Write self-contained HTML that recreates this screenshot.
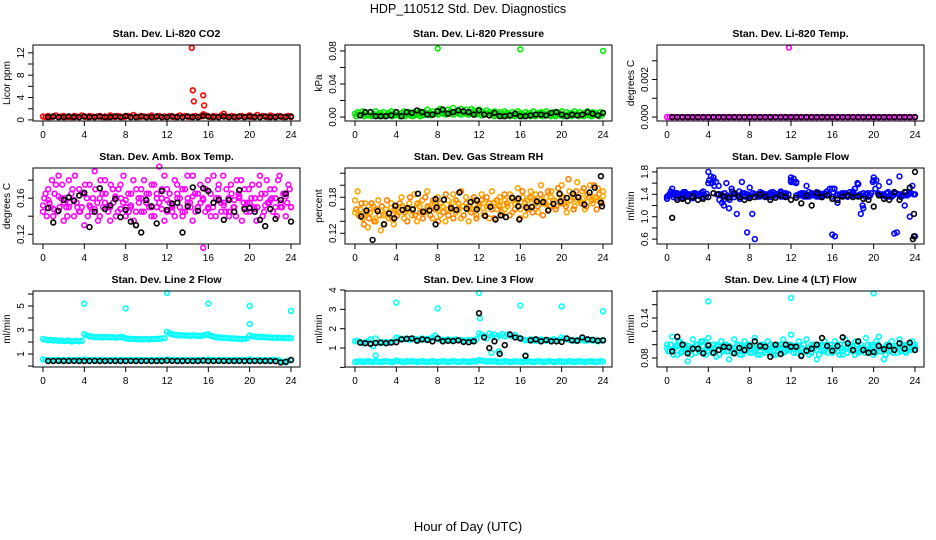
<!DOCTYPE html>
<html><head><meta charset="utf-8"><style>
html,body{margin:0;padding:0;background:#fff;}
svg{display:block;font-family:"Liberation Sans",Arial,sans-serif;}
</style></head><body>
<svg id="chart" width="936" height="540" viewBox="0 0 936 540" xmlns="http://www.w3.org/2000/svg">
<text x="468" y="13" text-anchor="middle" font-size="12.5">HDP_110512  Std. Dev. Diagnostics</text>
<text x="468" y="531" text-anchor="middle" font-size="13">Hour of Day (UTC)</text>
</svg>
<script>
// ---------- data ----------
const xTicks = [0,4,8,12,16,20,24];

const co2Red = [0.6,0.5,0.7,0.5,0.6,0.8,0.5,0.6,0.7,0.5,0.6,0.5,0.7,0.6,0.5,0.8,0.6,0.5,0.7,0.6,0.5,0.6,0.7,0.5,0.6,0.5,0.8,0.6,0.5,0.7,0.6,0.5,0.6,0.7,0.5,0.9,0.6,0.5,0.7,0.6,0.5,0.6,0.8,0.5,0.6,0.7,0.5,0.6,0.5,0.7,0.6,0.5,0.6,0.8,0.5,0.7,0.6,0.5,0.6,0.7,0.5,0.6,1.0,0.8,0.6,0.5,0.7,0.6,0.5,0.8,1.1,0.6,0.5,0.7,0.6,0.5,0.6,0.7,0.5,0.6,0.8,0.5,0.6,0.9,0.5,0.7,0.6,0.5,0.8,0.6,0.5,0.7,0.6,0.5,0.6,0.7,0.5];
const co2OutHours = [14.4,14.5,14.6,15.5,15.6];
const co2OutVals = [12.9,5.3,3.3,4.4,2.6];
const co2Black = [0.5,0.6,0.5,0.5,0.6,0.5,0.5,0.6,0.5,0.5,0.6,0.5,0.5,0.6,0.5,0.7,0.5,0.5,0.6,0.5,0.5,0.6,0.5,0.5,0.6,0.5,0.5,0.6,0.5,0.5,0.7,0.6,0.5,0.5,0.6,0.5,0.5,0.6,0.5,0.6,0.5,0.5,0.6,0.5,0.5,0.6,0.5,0.6];

const presGreenA = [0.004,0.006,0.003,0.007,0.005,0.002,0.006,0.004,0.007,0.003,0.005,0.006,0.002,0.005,0.007,0.004,0.006,0.003,0.005,0.007,0.004,0.006,0.003,0.006,0.005,0.007,0.004,0.006,0.009,0.005,0.007,0.004,0.008,0.010,0.006,0.005,0.009,0.007,0.011,0.006,0.008,0.010,0.007,0.009,0.006,0.010,0.008,0.006,0.009,0.007,0.005,0.008,0.006,0.004,0.007,0.005,0.006,0.004,0.007,0.005,0.003,0.006,0.004,0.007,0.005,0.003,0.006,0.004,0.005,0.007,0.003,0.005,0.006,0.004,0.007,0.005,0.003,0.006,0.004,0.005,0.007,0.003,0.006,0.004,0.005,0.007,0.004,0.006,0.003,0.005,0.007,0.004,0.006,0.005,0.003,0.006,0.005];
const presGreenB = [0.001,0.003,0.002,0.001,0.003,0.002,0.001,0.002,0.003,0.001,0.002,0.001,0.003,0.002,0.001,0.002,0.003,0.001,0.002,0.001,0.003,0.002,0.001,0.002,0.003,0.001,0.002,0.003,0.004,0.002,0.003,0.004,0.003,0.005,0.004,0.003,0.005,0.004,0.003,0.006,0.004,0.003,0.005,0.004,0.003,0.004,0.005,0.003,0.004,0.002,0.003,0.004,0.002,0.003,0.001,0.002,0.003,0.001,0.002,0.003,0.001,0.002,0.001,0.003,0.002,0.001,0.002,0.003,0.001,0.002,0.001,0.003,0.002,0.001,0.002,0.003,0.001,0.002,0.001,0.003,0.002,0.001,0.002,0.003,0.001,0.002,0.003,0.001,0.002,0.001,0.003,0.002,0.001,0.002,0.003,0.001,0.002];
const presOutHours = [8,16,24];
const presOutVals = [0.083,0.082,0.080];
const presBlack = [0.002,0.006,0.006,0.001,0.001,0.001,0.002,0.006,0.001,0.006,0.005,0.008,0.006,0.003,0.003,0.007,0.009,0.004,0.006,0.008,0.007,0.006,0.003,0.008,0.003,0.002,0.005,0.001,0.001,0.002,0.004,0.001,0.001,0.002,0.003,0.003,0.002,0.005,0.006,0.003,0.001,0.003,0.002,0.003,0.006,0.004,0.002,0.005];

const tempMag = [0,0,0,0,0,0,0,0,0,0,0,0,0,0,0,0,0,0,0,0,0,0,0,0,0,0,0,0,0,0,0,0,0,0,0,0,0,0,0,0,0,0,0,0,0,0,0,0,0,0,0,0,0,0,0,0,0,0,0,0,0,0,0,0,0,0,0,0,0,0,0,0,0,0,0,0,0,0,0,0,0,0,0,0,0,0,0,0,0,0,0,0,0,0,0,0,0];
const tempOutHours = [11.8];
const tempOutVals = [0.0037];
const tempBlack = [0,0,0,0,0,0,0,0,0,0,0,0,0,0,0,0,0,0,0,0,0,0,0,0,0,0,0,0,0,0,0,0,0,0,0,0,0,0,0,0,0,0,0,0,0,0,0,0];

const ambA = [0.145,0.165,0.17,0.15,0.14,0.175,0.185,0.16,0.135,0.15,0.18,0.165,0.14,0.155,0.17,0.15,0.13,0.16,0.175,0.145,0.19,0.155,0.14,0.165,0.18,0.15,0.135,0.17,0.16,0.145,0.175,0.155,0.14,0.165,0.15,0.18,0.13,0.16,0.17,0.145,0.155,0.165,0.14,0.175,0.15,0.195,0.16,0.135,0.17,0.155,0.145,0.18,0.165,0.15,0.14,0.17,0.16,0.15,0.185,0.145,0.165,0.155,0.105,0.17,0.15,0.14,0.185,0.16,0.175,0.145,0.155,0.17,0.14,0.165,0.15,0.18,0.16,0.135,0.17,0.155,0.145,0.175,0.16,0.15,0.185,0.14,0.165,0.155,0.17,0.145,0.16,0.18,0.15,0.165,0.14,0.175,0.15];
const ambB = [0.16,0.14,0.155,0.18,0.165,0.145,0.15,0.175,0.16,0.14,0.155,0.17,0.185,0.15,0.145,0.165,0.175,0.14,0.15,0.16,0.17,0.135,0.18,0.15,0.165,0.145,0.175,0.155,0.14,0.17,0.16,0.185,0.15,0.145,0.165,0.135,0.17,0.155,0.145,0.18,0.165,0.15,0.175,0.14,0.16,0.155,0.17,0.185,0.145,0.165,0.15,0.14,0.175,0.16,0.17,0.145,0.185,0.155,0.135,0.165,0.15,0.175,0.16,0.145,0.18,0.165,0.15,0.14,0.17,0.155,0.185,0.145,0.16,0.175,0.15,0.14,0.165,0.18,0.155,0.145,0.17,0.16,0.15,0.135,0.175,0.165,0.145,0.18,0.155,0.16,0.17,0.14,0.185,0.15,0.165,0.155,0.17];
const ambC = [0.152,0.158,0.148,0.162,0.155,0.15,0.158,0.145,0.165,0.152,0.148,0.16,0.155,0.15,0.162,0.148,0.158,0.152,0.145,0.16,0.155,0.15,0.165,0.148,0.158,0.152,0.16,0.145,0.155,0.162,0.15,0.158,0.148,0.155,0.16,0.152,0.145,0.158,0.162,0.15,0.155,0.148,0.16,0.152,0.158,0.15,0.155,0.162,0.15];
const ambBlack = [0.149,0.133,0.146,0.158,0.161,0.157,0.163,0.166,0.128,0.145,0.171,0.148,0.152,0.159,0.139,0.147,0.134,0.13,0.122,0.158,0.151,0.132,0.168,0.147,0.154,0.155,0.122,0.151,0.172,0.146,0.171,0.168,0.155,0.158,0.136,0.158,0.145,0.169,0.148,0.149,0.145,0.136,0.129,0.148,0.137,0.158,0.165,0.134];

const rhA = [0.175,0.19,0.16,0.145,0.17,0.13,0.155,0.165,0.14,0.175,0.125,0.15,0.16,0.145,0.17,0.135,0.165,0.155,0.18,0.145,0.16,0.17,0.15,0.185,0.14,0.165,0.175,0.155,0.19,0.16,0.145,0.17,0.18,0.15,0.165,0.14,0.175,0.16,0.185,0.155,0.17,0.145,0.165,0.18,0.14,0.16,0.175,0.15,0.17,0.185,0.155,0.165,0.145,0.19,0.17,0.16,0.18,0.15,0.175,0.165,0.185,0.155,0.17,0.195,0.16,0.18,0.15,0.175,0.19,0.165,0.185,0.155,0.2,0.17,0.18,0.16,0.19,0.175,0.165,0.185,0.2,0.17,0.155,0.19,0.18,0.165,0.205,0.175,0.19,0.16,0.185,0.2,0.17,0.18,0.195,0.175,0.19];
const rhB = [0.16,0.15,0.17,0.135,0.155,0.145,0.17,0.14,0.16,0.15,0.165,0.135,0.175,0.155,0.145,0.16,0.15,0.17,0.165,0.155,0.14,0.18,0.16,0.15,0.17,0.155,0.145,0.18,0.165,0.15,0.175,0.16,0.14,0.17,0.155,0.185,0.15,0.165,0.145,0.175,0.16,0.19,0.15,0.17,0.165,0.155,0.18,0.145,0.165,0.175,0.15,0.18,0.17,0.16,0.145,0.175,0.165,0.155,0.185,0.17,0.15,0.18,0.16,0.175,0.145,0.19,0.17,0.16,0.18,0.155,0.175,0.165,0.185,0.15,0.17,0.19,0.165,0.175,0.16,0.195,0.17,0.18,0.165,0.21,0.175,0.16,0.19,0.18,0.17,0.195,0.165,0.18,0.175,0.2,0.16,0.185,0.17];
const rhC = [0.155,0.148,0.152,0.16,0.145,0.158,0.15,0.162,0.155,0.165,0.158,0.16,0.168,0.155,0.162,0.17,0.158,0.165,0.16,0.172,0.158,0.165,0.16,0.168,0.162,0.17,0.165,0.172,0.168,0.16,0.175,0.168,0.172,0.165,0.178,0.17,0.175,0.168,0.18,0.172,0.178,0.17,0.182,0.175,0.178,0.172,0.18,0.175,0.182];
const rhBlackHours = [0.6,1.1,1.7,2.2,2.8,3.3,3.8,3.9,4.6,5.1,5.6,6.1,6.6,7.2,7.8,7.8,7.9,8.6,9.3,9.8,10.1,10.8,11.2,11.8,11.8,12.6,13.1,13.6,14.1,14.6,15.2,15.8,15.8,15.9,16.6,17.1,17.6,18.2,18.7,19.2,19.8,19.9,20.5,21.1,21.6,22.2,22.7,23.2,23.8,23.8,23.9];
const rhBlack = [0.148,0.158,0.109,0.157,0.135,0.153,0.145,0.166,0.159,0.162,0.16,0.186,0.156,0.158,0.135,0.177,0.163,0.176,0.162,0.159,0.188,0.161,0.172,0.175,0.16,0.149,0.164,0.143,0.15,0.147,0.179,0.178,0.165,0.143,0.163,0.164,0.173,0.172,0.158,0.169,0.186,0.173,0.179,0.186,0.18,0.168,0.188,0.196,0.215,0.171,0.165];

const flowA = [1.32,1.4,1.5,1.38,1.42,1.35,1.4,1.44,1.36,1.4,1.33,1.42,1.38,1.4,1.45,1.36,1.8,1.72,1.65,1.62,1.55,1.4,1.2,1.6,1.15,1.5,1.35,1.05,1.45,1.62,1.38,0.72,1.52,1.05,0.6,1.4,1.36,1.42,1.38,1.4,1.35,1.44,1.38,1.4,1.36,1.42,1.38,1.4,1.65,1.68,1.62,1.4,1.38,1.42,1.55,1.36,1.4,1.38,1.44,1.36,1.4,1.42,1.38,1.5,0.68,0.65,1.25,1.4,1.38,1.42,1.36,1.4,1.45,1.38,1.58,1.05,1.15,1.4,1.36,1.42,1.7,1.65,1.55,1.4,1.38,1.42,1.62,1.36,0.7,0.72,1.72,1.4,1.2,1.38,1.0,1.55,0.65];
const flowB = [1.38,1.45,1.35,1.42,1.4,1.33,1.44,1.38,1.4,1.36,1.42,1.4,1.37,1.43,1.39,1.41,1.65,1.6,1.55,1.4,1.3,1.25,1.42,1.38,1.3,1.45,1.4,1.38,1.32,1.42,1.36,1.4,1.38,1.42,1.4,1.36,1.44,1.38,1.4,1.37,1.43,1.39,1.41,1.38,1.45,1.36,1.42,1.4,1.7,1.62,1.6,1.38,1.42,1.36,1.4,1.44,1.38,1.4,1.36,1.42,1.38,1.4,1.45,1.4,1.36,1.5,1.4,1.38,1.42,1.4,1.36,1.44,1.38,1.5,1.6,1.4,1.2,1.36,1.42,1.38,1.62,1.5,1.42,1.38,1.4,1.36,1.44,1.4,1.38,1.42,1.4,1.35,1.38,1.44,1.4,1.42,1.4];
const flowC = [1.36,1.4,1.34,1.42,1.38,1.36,1.4,1.35,1.6,1.7,1.4,1.3,1.35,1.4,1.38,1.42,1.36,1.4,1.38,1.35,1.4,1.38,1.42,1.36,1.62,1.38,1.4,1.36,1.42,1.38,1.35,1.4,1.5,1.38,1.42,1.36,1.4,1.38,1.42,1.36,1.65,1.4,1.38,1.36,1.42,1.4,1.38,1.42,1.4];
const flowBlack = [0.98,1.3,1.32,1.28,1.36,1.3,1.32,1.35,1.42,1.4,1.36,1.34,1.42,1.35,1.3,1.33,1.35,1.4,1.36,1.3,1.34,1.38,1.35,1.3,1.34,1.24,1.38,1.2,1.42,1.35,1.38,1.32,1.3,1.36,1.38,1.35,1.36,1.32,1.3,1.18,1.38,1.32,1.3,1.44,1.3,1.44,1.52,1.8];
const flowBlackExtraHours = [23.9,23.9,23.8];
const flowBlackExtraVals = [1.05,0.65,0.6];

const l2Upper = [2.25,2.2,2.15,2.18,2.12,2.15,2.1,2.12,2.08,2.1,2.12,2.05,2.08,2.1,2.05,2.1,2.65,2.55,2.48,2.45,2.42,2.4,2.42,2.38,2.4,2.42,2.38,2.4,2.36,2.38,2.42,2.4,2.3,2.28,2.26,2.25,2.24,2.25,2.22,2.24,2.25,2.22,2.24,2.26,2.25,2.28,2.3,2.32,2.85,2.72,2.65,2.6,2.58,2.56,2.55,2.54,2.55,2.52,2.54,2.55,2.52,2.5,2.55,2.58,2.65,2.52,2.45,2.4,2.38,2.36,2.35,2.34,2.32,2.3,2.3,2.28,2.26,2.25,2.26,2.3,2.55,2.48,2.45,2.42,2.42,2.4,2.4,2.38,2.38,2.36,2.36,2.35,2.34,2.34,2.33,2.32,2.32];
const l2Lower = [0.55,0.5,0.45,0.5,0.48,0.52,0.5,0.46,0.5,0.48,0.52,0.5,0.47,0.5,0.52,0.48,0.55,0.5,0.48,0.52,0.5,0.47,0.5,0.52,0.48,0.5,0.46,0.5,0.52,0.48,0.5,0.5,0.48,0.52,0.5,0.47,0.5,0.52,0.48,0.5,0.46,0.5,0.52,0.48,0.5,0.5,0.48,0.52,0.55,0.5,0.48,0.52,0.5,0.47,0.5,0.52,0.48,0.5,0.46,0.5,0.52,0.48,0.5,0.5,0.55,0.52,0.5,0.47,0.5,0.52,0.48,0.5,0.46,0.5,0.52,0.48,0.5,0.5,0.48,0.52,0.55,0.5,0.47,0.5,0.52,0.48,0.5,0.46,0.5,0.52,0.48,0.5,0.4,0.35,0.3,0.45,0.5];
const l2OutHours = [4,8,12,16,20,20,24];
const l2OutVals = [5.2,4.8,6.1,5.2,5.0,3.5,4.6];
const l2Black = [0.42,0.42,0.43,0.42,0.42,0.43,0.42,0.42,0.42,0.43,0.42,0.42,0.43,0.42,0.42,0.42,0.43,0.42,0.42,0.43,0.42,0.42,0.42,0.45,0.43,0.42,0.42,0.43,0.42,0.42,0.45,0.42,0.42,0.43,0.42,0.42,0.42,0.43,0.42,0.42,0.43,0.42,0.42,0.42,0.4,0.3,0.35,0.5];

const l3Upper = [1.35,1.38,1.3,1.25,1.3,1.35,1.45,1.1,1.5,1.3,1.25,1.3,1.32,1.28,1.3,1.35,1.55,1.5,1.48,1.45,1.5,1.42,1.45,1.48,1.45,1.42,1.5,1.45,1.48,1.45,1.55,1.65,1.5,1.45,1.4,1.42,1.45,1.4,1.42,1.45,1.4,1.42,1.38,1.4,1.42,1.4,1.42,1.45,1.75,1.7,1.6,1.5,1.75,1.65,1.7,1.55,1.65,1.72,1.6,1.7,1.65,1.6,1.68,1.55,1.5,1.45,1.4,1.42,1.45,1.4,1.38,1.42,1.45,1.4,1.38,1.42,1.4,1.45,1.38,1.42,1.55,1.5,1.45,1.42,1.4,1.38,1.42,1.4,1.45,1.38,1.4,1.42,1.38,1.4,1.35,1.38,1.4];
const l3Lower = [0.28,0.3,0.32,0.28,0.3,0.33,0.3,0.28,0.32,0.3,0.28,0.3,0.32,0.3,0.28,0.3,0.35,0.32,0.3,0.28,0.32,0.3,0.33,0.3,0.28,0.3,0.32,0.3,0.28,0.3,0.32,0.3,0.28,0.3,0.32,0.3,0.28,0.3,0.32,0.3,0.28,0.3,0.32,0.3,0.28,0.3,0.32,0.3,0.38,0.35,0.32,0.3,0.33,0.3,0.32,0.3,0.28,0.3,0.32,0.3,0.28,0.3,0.32,0.3,0.3,0.28,0.3,0.32,0.3,0.28,0.3,0.32,0.3,0.28,0.3,0.32,0.3,0.28,0.3,0.32,0.3,0.28,0.3,0.32,0.3,0.28,0.3,0.32,0.3,0.28,0.3,0.32,0.3,0.28,0.3,0.32,0.3];
const l3OutHours = [2,4,8,12,12.1,13.2,13.9,16,16.5,20,24];
const l3OutVals = [0.62,3.35,3.05,3.85,2.55,0.75,0.82,3.2,0.62,3.15,2.9];
const l3Black = [1.28,1.25,1.22,1.26,1.28,1.25,1.28,1.3,1.45,1.48,1.5,1.38,1.45,1.42,1.35,1.5,1.35,1.38,1.36,1.4,1.32,1.3,1.35,2.8,1.55,1.0,1.35,0.7,1.15,1.7,1.55,1.5,0.6,1.4,1.45,1.35,1.42,1.35,1.35,1.32,1.5,1.4,1.38,1.55,1.45,1.42,1.38,1.4];

const l4A = [0.1,0.09,0.112,0.095,0.085,0.105,0.09,0.1,0.075,0.095,0.108,0.088,0.1,0.092,0.105,0.085,0.11,0.095,0.1,0.082,0.098,0.105,0.09,0.1,0.078,0.095,0.108,0.09,0.1,0.085,0.105,0.095,0.1,0.088,0.11,0.095,0.085,0.1,0.092,0.105,0.09,0.098,0.085,0.1,0.095,0.108,0.09,0.1,0.115,0.098,0.088,0.105,0.095,0.09,0.108,0.085,0.1,0.095,0.078,0.1,0.092,0.105,0.088,0.1,0.095,0.105,0.09,0.1,0.085,0.108,0.095,0.1,0.09,0.105,0.088,0.1,0.095,0.11,0.09,0.1,0.085,0.105,0.112,0.095,0.078,0.1,0.09,0.105,0.095,0.088,0.108,0.1,0.09,0.1,0.095,0.105,0.1];
const l4B = [0.09,0.1,0.085,0.098,0.105,0.088,0.1,0.092,0.098,0.085,0.095,0.1,0.09,0.105,0.088,0.095,0.1,0.088,0.092,0.1,0.085,0.095,0.1,0.09,0.098,0.088,0.095,0.1,0.085,0.095,0.09,0.1,0.088,0.098,0.092,0.085,0.1,0.095,0.088,0.092,0.1,0.085,0.098,0.09,0.1,0.088,0.095,0.092,0.1,0.088,0.095,0.098,0.085,0.1,0.09,0.095,0.088,0.1,0.092,0.085,0.098,0.09,0.1,0.095,0.088,0.092,0.1,0.085,0.095,0.1,0.088,0.092,0.098,0.085,0.1,0.09,0.095,0.088,0.1,0.092,0.098,0.088,0.1,0.09,0.095,0.085,0.1,0.092,0.088,0.098,0.095,0.09,0.1,0.088,0.095,0.092,0.098];
const l4C = [0.095,0.092,0.098,0.094,0.09,0.096,0.093,0.097,0.091,0.095,0.099,0.092,0.096,0.094,0.09,0.097,0.093,0.095,0.098,0.092,0.094,0.096,0.091,0.095,0.093,0.098,0.094,0.09,0.096,0.092,0.097,0.095,0.093,0.096,0.091,0.094,0.098,0.092,0.095,0.093,0.097,0.094,0.091,0.096,0.095,0.092,0.098,0.094,0.095];
const l4OutHours = [4,12,20];
const l4OutVals = [0.165,0.17,0.177];
const l4Black = [0.09,0.112,0.1,0.087,0.094,0.094,0.087,0.099,0.088,0.092,0.097,0.096,0.087,0.095,0.092,0.098,0.105,0.098,0.097,0.082,0.1,0.086,0.1,0.097,0.097,0.083,0.091,0.094,0.1,0.11,0.098,0.091,0.098,0.111,0.102,0.092,0.105,0.092,0.088,0.089,0.098,0.093,0.098,0.092,0.102,0.094,0.103,0.092];

// ---------- drawing ----------
const NS = 'http://www.w3.org/2000/svg';
const svg = document.getElementById('chart');
const colX = [33, 345, 657];
const rowY = [45, 168, 291];
const BW = 267, BH = 76;

function mk(tag, attrs, parent) {
  const e = document.createElementNS(NS, tag);
  for (const k in attrs) e.setAttribute(k, attrs[k]);
  (parent || svg).appendChild(e);
  return e;
}
function fmt(v, d) { return v.toFixed(d); }

function panel(o) {
  const L = colX[o.col], T = rowY[o.row];
  const g = mk('g', {});
  
  
  const xs = h => L + 10 + h * (BW - 19) / 24;
  const ys = v => T + BH - (v - o.ylo) / (o.yhi - o.ylo) * BH;
  const t = mk('text', {x: L + BW / 2, y: T - 8, 'text-anchor': 'middle', 'font-size': 10.5, 'font-weight': 'bold'}, g);
  t.textContent = o.title;
  
  
  o.series.forEach(s => {
    const sg = mk('g', {fill: 'none', stroke: s.color, 'stroke-width': 1.6}, g);
    
    
    s.vals.forEach((v, i) => {
      let h;
      if (s.hours) h = s.hours[i];
      else if (s.black) h = 0.5 + i * 23.5 / (s.vals.length - 1);
      else if (s.offset) h = 0.125 + i * 23.75 / (s.vals.length - 1);
      else h = i * 24 / (s.vals.length - 1);
      const c = mk('circle', {cx: xs(h).toFixed(1), cy: ys(v).toFixed(1), r: 2.4}, sg);
      
      
    });
  });
  const box = mk('rect', {x: L, y: T, width: BW, height: BH, fill: 'none', stroke: '#000', 'stroke-width': 1}, g);
  
  
  const xa = mk('g', {stroke: '#000', 'stroke-width': 1}, g);
  
  
  mk('line', {x1: xs(0), x2: xs(24), y1: T + BH, y2: T + BH}, xa);
  xTicks.forEach(h => {
    mk('line', {x1: xs(h), x2: xs(h), y1: T + BH, y2: T + BH + 5}, xa);
    const lt = mk('text', {x: xs(h), y: T + BH + 17, 'text-anchor': 'middle', 'font-size': 10, stroke: 'none', fill: '#000'}, xa);
    lt.textContent = h;
    
    
  });
  const ya = mk('g', {stroke: '#000', 'stroke-width': 1}, g);
  
  
  mk('line', {x1: L, x2: L, y1: ys(o.ticks[0]), y2: ys(o.ticks[o.ticks.length - 1])}, ya);
  o.ticks.forEach(v => mk('line', {x1: L - 5, x2: L, y1: ys(v), y2: ys(v)}, ya));
  o.labels.forEach(v => {
    const y = ys(v), x = L - 9;
    const lt = mk('text', {x: x, y: y, 'text-anchor': 'middle', 'font-size': 10, stroke: 'none', fill: '#000', transform: 'rotate(-90 ' + x + ' ' + y + ')'}, ya);
    lt.textContent = fmt(v, o.dec);
    
    
  });
  const yx = L - 23, yy = T + BH / 2;
  const yt = mk('text', {x: yx, y: yy, 'text-anchor': 'middle', 'font-size': 10, transform: 'rotate(-90 ' + yx + ' ' + yy + ')'}, g);
  yt.textContent = o.ylab;
  
  
}

panel({id:'co2', col:0, row:0, title:'Stan. Dev. Li-820 CO2', ylab:'Licor ppm', ylo:-0.2, yhi:13.4, ticks:[0,2,4,6,8,10,12], labels:[0,4,8,12], dec:0,
  series:[{name:'red', color:'#ff0000', vals:co2Red},{name:'red-outliers', color:'#ff0000', vals:co2OutVals, hours:co2OutHours},{name:'black', color:'#000', vals:co2Black, black:true}]});
panel({id:'pressure', col:1, row:0, title:'Stan. Dev. Li-820 Pressure', ylab:'kPa', ylo:-0.0048, yhi:0.0872, ticks:[0,0.02,0.04,0.06,0.08], labels:[0,0.04,0.08], dec:2,
  series:[{name:'green-a', color:'#00ee00', vals:presGreenA},{name:'green-b', color:'#00dd00', vals:presGreenB, offset:true},{name:'green-outliers', color:'#00ee00', vals:presOutVals, hours:presOutHours},{name:'black', color:'#000', vals:presBlack, black:true}]});
panel({id:'li820-temp', col:2, row:0, title:'Stan. Dev. Li-820 Temp.', ylab:'degrees C', ylo:-0.00021, yhi:0.00384, ticks:[0,0.001,0.002,0.003], labels:[0,0.002], dec:3,
  series:[{name:'magenta', color:'#ff00ff', vals:tempMag},{name:'magenta-outliers', color:'#ff00ff', vals:tempOutVals, hours:tempOutHours},{name:'black', color:'#000', vals:tempBlack, black:true}]});
panel({id:'amb-box-temp', col:0, row:1, title:'Stan. Dev. Amb. Box Temp.', ylab:'degrees C', ylo:0.1092, yhi:0.1935, ticks:[0.12,0.14,0.16,0.18], labels:[0.12,0.16], dec:2,
  series:[{name:'magenta-a', color:'#ff00ff', vals:ambA},{name:'magenta-b', color:'#ff00ff', vals:ambB, offset:true},{name:'magenta-c', color:'#ff00ff', vals:ambC},{name:'black', color:'#000', vals:ambBlack, black:true}]});
panel({id:'gas-rh', col:1, row:1, title:'Stan. Dev. Gas Stream RH', ylab:'percent', ylo:0.1022, yhi:0.2287, ticks:[0.12,0.14,0.16,0.18,0.20,0.22], labels:[0.12,0.18], dec:2,
  series:[{name:'orange-a', color:'#ffa500', vals:rhA},{name:'orange-b', color:'#ff7f00', vals:rhB, offset:true},{name:'orange-c', color:'#ffb000', vals:rhC},{name:'black', color:'#000', vals:rhBlack, hours:rhBlackHours}]});
panel({id:'sample-flow', col:2, row:1, title:'Stan. Dev. Sample Flow', ylab:'ml/min', ylo:0.513, yhi:1.87, ticks:[0.6,0.8,1.0,1.2,1.4,1.6,1.8], labels:[0.6,1.0,1.4,1.8], dec:1,
  series:[{name:'blue-a', color:'#0000ff', vals:flowA},{name:'blue-b', color:'#0000ff', vals:flowB, offset:true},{name:'blue-c', color:'#0000ff', vals:flowC},{name:'black', color:'#000', vals:flowBlack, black:true},{name:'black-extra', color:'#000', vals:flowBlackExtraVals, hours:flowBlackExtraHours}]});
panel({id:'line2-flow', col:0, row:2, title:'Stan. Dev. Line 2 Flow', ylab:'ml/min', ylo:-0.08, yhi:6.25, ticks:[0,1,2,3,4,5,6], labels:[1,3,5], dec:0,
  series:[{name:'cyan-upper', color:'#00ffff', vals:l2Upper},{name:'cyan-lower', color:'#00ffff', vals:l2Lower},{name:'cyan-outliers', color:'#00ffff', vals:l2OutVals, hours:l2OutHours},{name:'black', color:'#000', vals:l2Black, black:true}]});
panel({id:'line3-flow', col:1, row:2, title:'Stan. Dev. Line 3 Flow', ylab:'ml/min', ylo:0.02, yhi:3.95, ticks:[0,1,2,3,4], labels:[1,2,3,4], dec:0,
  series:[{name:'cyan-upper', color:'#00ffff', vals:l3Upper},{name:'cyan-lower', color:'#00ffff', vals:l3Lower},{name:'cyan-outliers', color:'#00ffff', vals:l3OutVals, hours:l3OutHours},{name:'black', color:'#000', vals:l3Black, black:true}]});
panel({id:'line4-flow', col:2, row:2, title:'Stan. Dev. Line 4 (LT) Flow', ylab:'ml/min', ylo:0.0665, yhi:0.1805, ticks:[0.08,0.10,0.12,0.14,0.16,0.18], labels:[0.08,0.14], dec:2,
  series:[{name:'cyan-a', color:'#00ffff', vals:l4A},{name:'cyan-b', color:'#00eeee', vals:l4B, offset:true},{name:'cyan-c', color:'#00ffff', vals:l4C},{name:'cyan-outliers', color:'#00ffff', vals:l4OutVals, hours:l4OutHours},{name:'black', color:'#000', vals:l4Black, black:true}]});
</script>
</body></html>
